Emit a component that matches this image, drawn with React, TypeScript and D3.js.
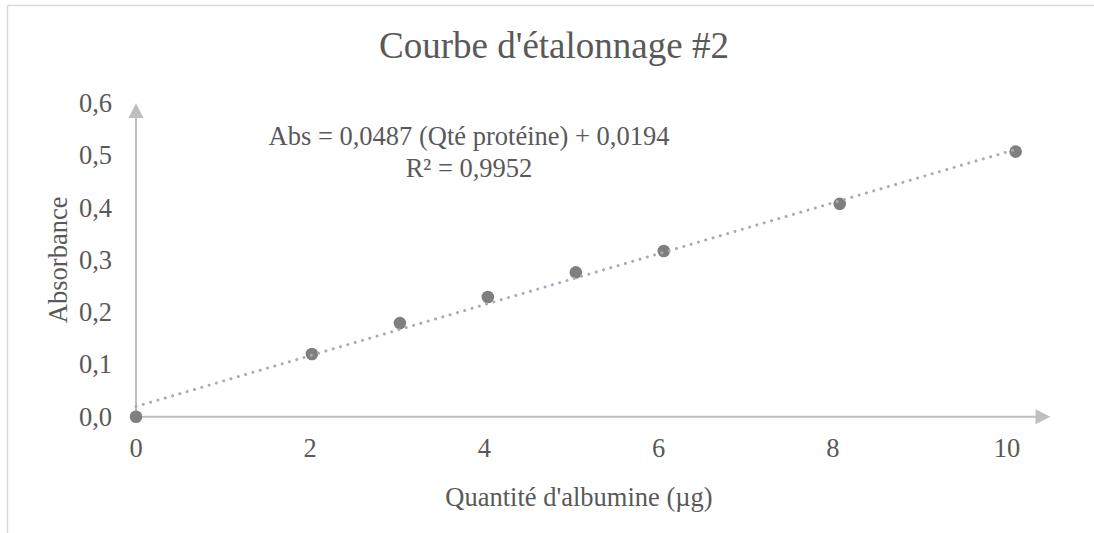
import React from "react";
import * as d3 from "d3";

// Calibration standards: amount of albumin (µg) and measured absorbance
const quantities = [0, 2.02, 3.03, 4.04, 5.05, 6.06, 8.08, 10.1];
const absorbances = [0, 0.12, 0.179, 0.229, 0.276, 0.317, 0.407, 0.507];

// Linear fit reported on the chart
const slope = 0.0487;
const intercept = 0.0194;
const rSquared = 0.9952;

const xTicks = [0, 2, 4, 6, 8, 10];
const yTicks = [0, 0.1, 0.2, 0.3, 0.4, 0.5, 0.6];

const W = 1094;
const H = 533;
const FONT = "'Liberation Serif', 'Times New Roman', serif";
const TEXT = "#595959";
const AXIS = "#bfbfbf";

const fmt = (v: number, digits: number) => v.toFixed(digits).replace(".", ",");

export default function App() {
  const x = d3.scaleLinear().domain([0, 10.5]).range([136, 1050.5]);
  const y = d3.scaleLinear().domain([0, 0.6]).range([416.7, 103]);

  const x0 = x(0);
  const y0 = y(0);
  const xEnd = x(10.5);
  const yTop = y(0.6);

  const fitX = [0, d3.max(quantities) as number];
  const fitLine = d3
    .line<number>()
    .x((d) => x(d))
    .y((d) => y(slope * d + intercept))(fitX);

  return (
    <svg
      width={W}
      height={H}
      style={{ position: "absolute", left: 0, top: 0, background: "#fff" }}
      fontFamily={FONT}
    >
      <rect x={0} y={0} width={W} height={H} fill="#fff" />
      {/* chart frame */}
      <line x1={7.5} y1={5.5} x2={W} y2={5.5} stroke="#d9d9d9" strokeWidth={1.5} />
      <line x1={7.5} y1={5.5} x2={7.5} y2={H} stroke="#d9d9d9" strokeWidth={1.5} />

      <text x={554} y={58} textAnchor="middle" fontSize={37} fill={TEXT}>
        Courbe d'étalonnage #2
      </text>

      {/* axes with arrow heads */}
      <line x1={x0} y1={y0} x2={xEnd - 14} y2={y0} stroke={AXIS} strokeWidth={2} />
      <path
        d={`M${xEnd},${y0} L${xEnd - 15},${y0 - 7.5} L${xEnd - 15},${y0 + 7.5} Z`}
        fill={AXIS}
      />
      <line x1={x0} y1={y0} x2={x0} y2={yTop + 14} stroke={AXIS} strokeWidth={2} />
      <path
        d={`M${x0},${yTop} L${x0 - 7.5},${yTop + 15} L${x0 + 7.5},${yTop + 15} Z`}
        fill={AXIS}
      />

      {xTicks.map((t) => (
        <text
          key={`xt${t}`}
          x={x(t)}
          y={457}
          textAnchor="middle"
          fontSize={26.5}
          fill={TEXT}
        >
          {t}
        </text>
      ))}
      {yTicks.map((t) => (
        <text
          key={`yt${t}`}
          x={112}
          y={y(t) + 9}
          textAnchor="end"
          fontSize={26.5}
          fill={TEXT}
        >
          {fmt(t, 1)}
        </text>
      ))}

      <text
        transform={`translate(67,${(y0 + yTop) / 2}) rotate(-90)`}
        textAnchor="middle"
        fontSize={26.5}
        fill={TEXT}
      >
        Absorbance
      </text>
      <text x={579} y={506} textAnchor="middle" fontSize={26.5} fill={TEXT}>
        Quantité d'albumine (µg)
      </text>

      {/* data points */}
      {quantities.map((q, i) => (
        <circle key={`p${i}`} cx={x(q)} cy={y(absorbances[i])} r={6.3} fill="#7f7f7f" />
      ))}

      {/* dotted linear trend line */}
      <path
        d={fitLine ?? ""}
        fill="none"
        stroke="#a6abb8"
        strokeWidth={3}
        strokeLinecap="round"
        strokeDasharray="0.01 7.6"
      />

      <text x={469} y={145} textAnchor="middle" fontSize={26.5} fill={TEXT}>
        Abs = {fmt(slope, 4)} (Qté protéine) + {fmt(intercept, 4)}
      </text>
      <text x={469} y={177} textAnchor="middle" fontSize={26.5} fill={TEXT}>
        R² = {fmt(rSquared, 4)}
      </text>
    </svg>
  );
}
